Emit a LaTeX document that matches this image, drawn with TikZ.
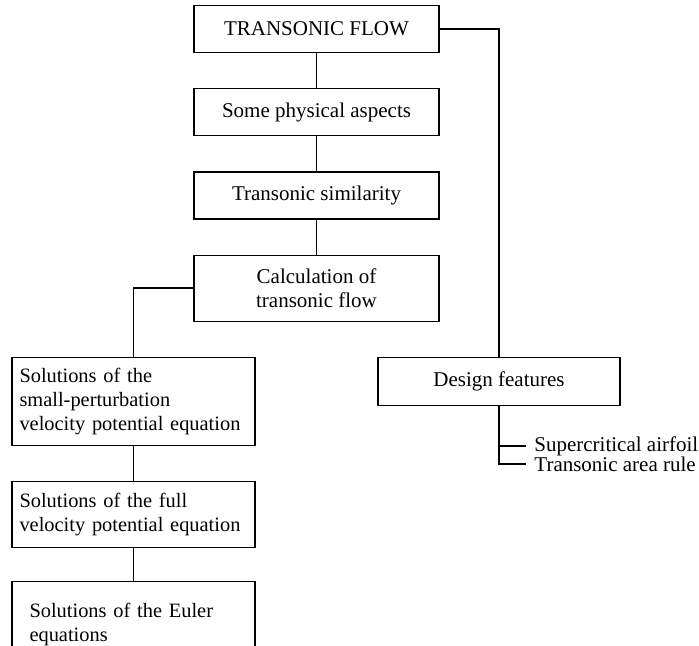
\documentclass[tikz,border=0pt]{standalone}
\usepackage{fontspec}
\setmainfont{Liberation Serif}
\usetikzlibrary{positioning}

\begin{document}
\begin{tikzpicture}[
    node distance=17.5pt,
    topic/.style={rectangle, draw=black, line width=0.6pt, minimum width=122.5pt,
                  minimum height=23.5pt, align=center, font=\fontsize{10.5}{12}\selectfont},
    method/.style={rectangle, draw=black, line width=0.6pt, text width=114pt, inner xsep=3.75pt,
                   minimum height=33pt, align=left, font=\fontsize{10.2}{12}\selectfont},
    leaf/.style={anchor=west, inner xsep=4pt, inner ysep=1pt, font=\fontsize{10.5}{12}\selectfont},
    link/.style={line width=0.9pt, black}
]
\useasboundingbox (0,0) rectangle (349.5pt,-322.5pt);
\node[topic] (flow) at (158.25pt,-14.5pt) {TRANSONIC FLOW};
\node[topic, below=of flow] (phys) {Some physical aspects};
\node[topic, below=of phys] (simil) {Transonic similarity};
\node[topic, below=of simil, minimum height=33pt] (calc) {Calculation of\\transonic flow};
\node[method, below=of calc, xshift=-91.5pt, minimum height=44pt] (smallpert) {Solutions of the\\small-perturbation\\velocity potential equation};
\node[method, below=of smallpert] (fullpot) {Solutions of the full\\velocity potential equation};
\node[method, below=16.5pt of fullpot, minimum height=43pt, text width=104pt, inner xsep=8.75pt] (euler) {Solutions of the Euler\\equations};
\node[topic, below=of calc, xshift=91.25pt, minimum width=121pt, minimum height=24pt] (design) {Design features};
\node[leaf] (airfoil) at ([xshift=13.5pt, yshift=-20pt]design.south) {Supercritical airfoil};
\node[leaf] (arearule) at ([yshift=-9pt]airfoil.west) {Transonic area rule};

\draw[link] (flow) -- (phys);
\draw[link] (phys) -- (simil);
\draw[link] (simil) -- (calc);
\draw[link] (calc.west) -| (smallpert.north);
\draw[link] (smallpert) -- (fullpot);
\draw[link] (fullpot) -- (euler);
\draw[link] (flow.east) -| (design.north);
\draw[link] (design.south) |- (arearule.west);
\draw[link] (airfoil.west -| design.south) -- (airfoil.west);
\end{tikzpicture}
\end{document}
